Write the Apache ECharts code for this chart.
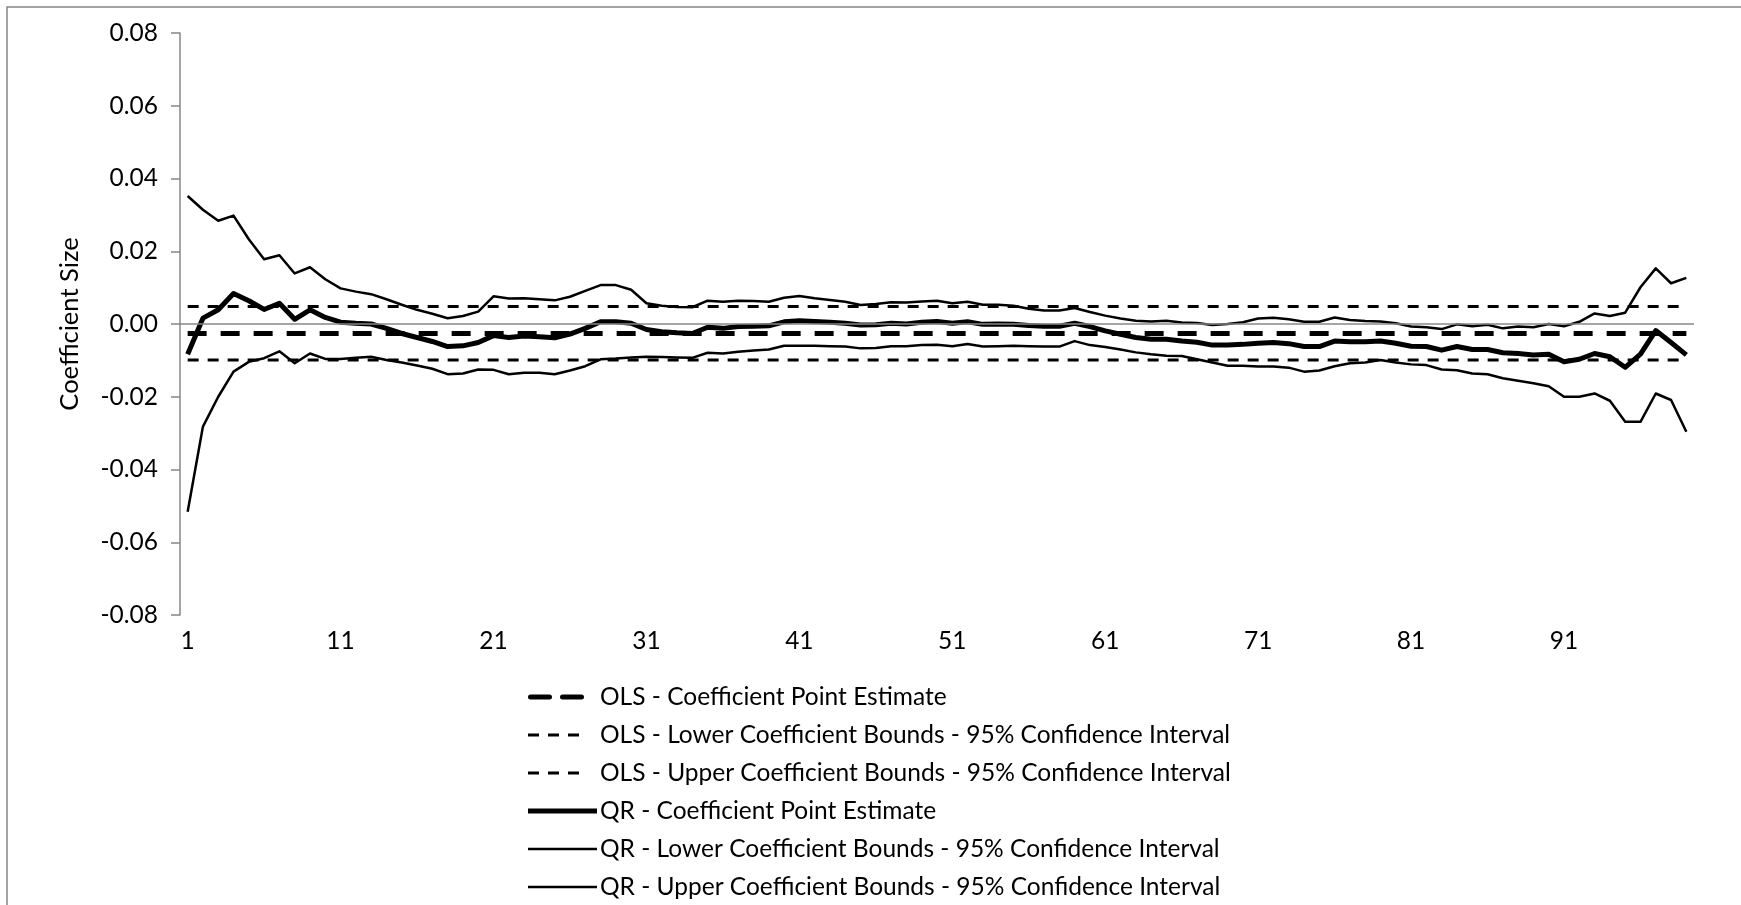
<!DOCTYPE html>
<html>
<head>
<meta charset="utf-8">
<script src="https://cdn.jsdelivr.net/npm/echarts@6/dist/echarts.min.js"></script>
<style>
html,body{margin:0;padding:0;background:#fff;}
#chart{width:1741px;height:905px;}
</style>
</head>
<body>
<div id="chart"></div>
<script>
// Categories (quantiles 1..99)
const categories = [];
for (let i = 1; i <= 99; i++) categories.push(String(i));

// OLS constant estimates
const olsPoint = -0.0026;
const olsLower = -0.0099;
const olsUpper = 0.0048;

// QR coefficient point estimates
const qrPoint = [
 -0.0083, 0.0016, 0.0039, 0.0084, 0.0064, 0.0040, 0.0057, 0.0013, 0.0039, 0.0018,
  0.0005, 0.0002, 0.0000,-0.0012,-0.0026,-0.0037,-0.0048,-0.0062,-0.0060,-0.0051,
 -0.0032,-0.0037,-0.0033,-0.0035,-0.0038,-0.0028,-0.0012, 0.0006, 0.0006, 0.0002,
 -0.0015,-0.0021,-0.0024,-0.0026,-0.0009,-0.0012,-0.0007,-0.0006,-0.0005, 0.0006,
  0.0009, 0.0007, 0.0005, 0.0002,-0.0003,-0.0002, 0.0002, 0.0000, 0.0005, 0.0007,
  0.0002, 0.0006,-0.0001, 0.0000,-0.0001,-0.0004,-0.0006,-0.0006, 0.0002,-0.0007,
 -0.0019,-0.0028,-0.0037,-0.0042,-0.0042,-0.0047,-0.0050,-0.0058,-0.0058,-0.0056,
 -0.0053,-0.0051,-0.0054,-0.0062,-0.0062,-0.0047,-0.0049,-0.0049,-0.0047,-0.0053,
 -0.0061,-0.0062,-0.0072,-0.0062,-0.0070,-0.0070,-0.0079,-0.0081,-0.0085,-0.0083,
 -0.0104,-0.0097,-0.0081,-0.0090,-0.0119,-0.0083,-0.0018,-0.0051,-0.0085
];

// QR upper bounds
const qrUpper = [
  0.0352, 0.0314, 0.0284, 0.0298, 0.0233, 0.0178, 0.0189, 0.0139, 0.0156, 0.0123,
  0.0098, 0.0089, 0.0082, 0.0068, 0.0053, 0.0039, 0.0028, 0.0016, 0.0022, 0.0034,
  0.0076, 0.0070, 0.0071, 0.0068, 0.0065, 0.0075, 0.0091, 0.0107, 0.0107, 0.0094,
  0.0057, 0.0050, 0.0047, 0.0046, 0.0064, 0.0061, 0.0064, 0.0063, 0.0061, 0.0072,
  0.0077, 0.0071, 0.0066, 0.0061, 0.0052, 0.0055, 0.0060, 0.0059, 0.0062, 0.0064,
  0.0057, 0.0061, 0.0053, 0.0053, 0.0050, 0.0042, 0.0037, 0.0037, 0.0044, 0.0033,
  0.0023, 0.0015, 0.0009, 0.0007, 0.0009, 0.0004, 0.0003,-0.0003, 0.0000, 0.0005,
  0.0015, 0.0017, 0.0013, 0.0006, 0.0006, 0.0018, 0.0011, 0.0008, 0.0007, 0.0002,
 -0.0007,-0.0009,-0.0014,-0.0001,-0.0006,-0.0002,-0.0012,-0.0007,-0.0009, 0.0000,
 -0.0006, 0.0006, 0.0029, 0.0022, 0.0031, 0.0101, 0.0153, 0.0112, 0.0127
];

// QR lower bounds
const qrLower = [
 -0.0516,-0.0282,-0.0200,-0.0131,-0.0104,-0.0094,-0.0075,-0.0108,-0.0081,-0.0096,
 -0.0096,-0.0093,-0.0090,-0.0099,-0.0106,-0.0114,-0.0123,-0.0138,-0.0136,-0.0125,
 -0.0126,-0.0138,-0.0134,-0.0134,-0.0138,-0.0128,-0.0116,-0.0097,-0.0095,-0.0092,
 -0.0090,-0.0091,-0.0092,-0.0093,-0.0079,-0.0081,-0.0076,-0.0073,-0.0070,-0.0060,
 -0.0060,-0.0060,-0.0061,-0.0062,-0.0067,-0.0066,-0.0061,-0.0061,-0.0058,-0.0057,
 -0.0061,-0.0055,-0.0062,-0.0061,-0.0060,-0.0061,-0.0062,-0.0062,-0.0047,-0.0058,
 -0.0063,-0.0070,-0.0078,-0.0083,-0.0087,-0.0088,-0.0097,-0.0106,-0.0115,-0.0115,
 -0.0117,-0.0117,-0.0120,-0.0131,-0.0128,-0.0116,-0.0108,-0.0106,-0.0099,-0.0106,
 -0.0111,-0.0113,-0.0125,-0.0127,-0.0136,-0.0138,-0.0149,-0.0156,-0.0163,-0.0171,
 -0.0200,-0.0200,-0.0191,-0.0211,-0.0269,-0.0269,-0.0191,-0.0209,-0.0296
];

const seriesNames = [
  'OLS - Coefficient Point Estimate',
  'OLS - Lower Coefficient Bounds - 95% Confidence Interval',
  'OLS - Upper Coefficient Bounds - 95% Confidence Interval',
  'QR - Coefficient Point Estimate',
  'QR - Lower Coefficient Bounds - 95% Confidence Interval',
  'QR - Upper Coefficient Bounds - 95% Confidence Interval'
];

// Line styles per series: [width, dash in plot, dash in legend]
const seriesStyles = [
  [5, [19, 14], [19, 13]],
  [3, [11, 9], [11, 9]],
  [3, [11, 9], [11, 9]],
  [5, null, null],
  [2.5, null, null],
  [2.5, null, null]
];

const FONT = 'Lato';
const FS = 24.5;
const chart = echarts.init(document.getElementById('chart'), null, {renderer: 'canvas'});

function lineSeries(idx, data, extra) {
  const st = seriesStyles[idx];
  return Object.assign({
    name: seriesNames[idx],
    type: 'line',
    data: data,
    symbol: 'none',
    showSymbol: false,
    silent: true,
    lineStyle: {color: '#000', width: st[0], type: st[1] || 'solid', cap: 'butt', join: 'round'},
    itemStyle: {color: '#000'}
  }, extra || {});
}

// Legend drawn as graphic elements (line sample + text)
const legendGraphics = [];
const LEG_X = 528, LEG_Y0 = 697, LEG_STEP = 38;
seriesNames.forEach(function (name, i) {
  const st = seriesStyles[i];
  const y = LEG_Y0 + i * LEG_STEP;
  const isDashed = !!st[2];
  const thickDash = isDashed && st[0] > 4;
  legendGraphics.push({
    type: 'line',
    silent: true,
    shape: {x1: LEG_X + (thickDash ? 2.5 : 0), y1: y, x2: LEG_X + (isDashed ? 54 : 69), y2: y},
    style: {stroke: '#000', lineWidth: st[0], lineDash: st[2] || null, lineCap: thickDash ? 'round' : 'butt'}
  });
  legendGraphics.push({
    type: 'text',
    silent: true,
    x: 600,
    y: y,
    style: {text: name, fill: '#000', font: FS + 'px ' + FONT, textVerticalAlign: 'middle', verticalAlign: 'middle'}
  });
});

const option = {
  animation: false,
  backgroundColor: '#fff',
  graphic: [{
    type: 'rect',
    shape: {x: 7, y: 7, width: 1900, height: 1000},
    style: {fill: 'none', stroke: '#878787', lineWidth: 1.5},
    silent: true,
    z: -10
  }].concat(legendGraphics),
  grid: {left: 180, right: 47, top: 33, bottom: 290, containLabel: false},
  xAxis: {
    type: 'category',
    data: categories,
    boundaryGap: true,
    axisLine: {show: false},
    axisTick: {show: false},
    axisLabel: {interval: 9, color: '#000', fontFamily: FONT, fontSize: FS, margin: 14},
    splitLine: {show: false}
  },
  yAxis: {
    type: 'value',
    min: -0.08, max: 0.08, interval: 0.02,
    name: 'Coefficient Size',
    nameLocation: 'middle',
    nameGap: 97,
    nameRotate: 90,
    nameTextStyle: {color: '#000', fontFamily: FONT, fontSize: FS + 1},
    axisLine: {show: true, lineStyle: {color: '#868686', width: 1.5}},
    axisTick: {show: true, inside: false, length: 9, lineStyle: {color: '#868686', width: 1.5}},
    axisLabel: {color: '#000', fontFamily: FONT, fontSize: FS, margin: 22,
      formatter: function (v) { return (Math.abs(v) < 1e-9 ? 0 : v).toFixed(2); }},
    splitLine: {show: false}
  },
  series: [
    lineSeries(0, categories.map(() => olsPoint)),
    lineSeries(1, categories.map(() => olsLower)),
    lineSeries(2, categories.map(() => olsUpper)),
    lineSeries(3, qrPoint),
    lineSeries(4, qrLower, {
      markLine: {
        silent: true, symbol: 'none', animation: false,
        label: {show: false},
        lineStyle: {color: '#878787', width: 1.5, type: 'solid'},
        data: [{yAxis: 0}]
      }
    }),
    lineSeries(5, qrUpper)
  ]
};
chart.setOption(option);
</script>
</body>
</html>
